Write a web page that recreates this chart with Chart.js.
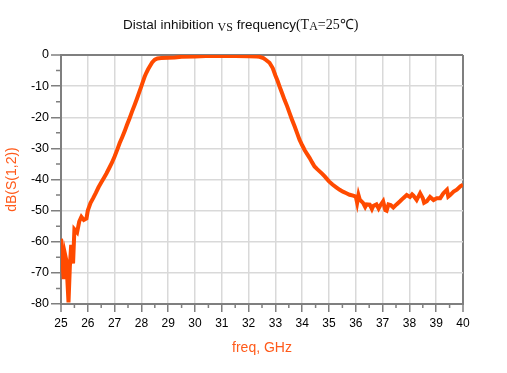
<!DOCTYPE html>
<html>
<head>
<meta charset="utf-8">
<script src="https://cdn.jsdelivr.net/npm/chart.js@4"></script>
<style>
  body { margin: 0; background: #fff; }
  #wrap { position: relative; width: 507px; height: 373px; }
  #title {
    position: absolute; left: 123px; top: 14px; white-space: nowrap;
    font-family: "Liberation Sans", Arial, sans-serif; font-size: 13.5px; color: #111;
  }
  #title .sf { font-family: "Liberation Serif", "Times New Roman", serif; font-size: 14px; }
  #title .vs { font-family: "Liberation Serif", serif; font-size: 12px; position: relative; top: 2px; }
  #title sub { font-size: 12px; position: relative; top: 1px; vertical-align: baseline; }
</style>
</head>
<body>
<div id="wrap">
  <canvas id="mycanvas"></canvas>
  <div id="title">Distal inhibition <span class="vs">VS</span> frequency<span class="sf">(T<sub>A</sub>=25℃)</span></div>
</div>
<script>
var freq = [25.00, 25.05, 25.10, 25.15, 25.20, 25.28, 25.33, 25.38, 25.45, 25.50,
            25.60, 25.68, 25.76, 25.85, 25.95, 26.00, 26.10, 26.20, 26.30, 26.40,
            26.50, 26.60, 26.70, 26.80, 26.90, 27.00, 27.10, 27.19, 27.28, 27.37,
            27.46, 27.56, 27.65, 27.75, 27.84, 27.93, 28.00, 28.06, 28.12, 28.18,
            28.25, 28.31, 28.40, 28.50, 28.60, 28.74, 29.00, 29.24, 29.50, 30.00,
            30.40, 31.00, 31.50, 32.00, 32.30, 32.41, 32.55, 32.65, 32.78, 32.90,
            33.00, 33.08, 33.15, 33.25, 33.34, 33.44, 33.53, 33.62, 33.72, 33.81,
            33.90, 34.00, 34.09, 34.18, 34.28, 34.37, 34.46, 34.55, 34.65, 34.75,
            34.84, 34.92, 35.00, 35.13, 35.27, 35.40, 35.52, 35.65, 35.77, 35.90,
            36.00, 36.05, 36.10, 36.15, 36.27, 36.35, 36.40, 36.52, 36.60, 36.65,
            36.77, 36.85, 36.90, 37.02, 37.10, 37.15, 37.22, 37.30, 37.40, 37.52,
            37.65, 37.77, 37.90, 38.02, 38.10, 38.15, 38.27, 38.40, 38.50, 38.55,
            38.65, 38.77, 38.90, 39.02, 39.15, 39.27, 39.40, 39.45, 39.52, 39.65,
            39.77, 39.90, 40.00];
var db = [-59, -66, -72, -64, -66, -79.5, -68, -61, -67, -56,
          -57, -53.5, -52, -53, -52.5, -50, -47.6, -46, -44.3, -42.5,
          -41, -39.5, -38, -36.3, -34.6, -32.6, -30.4, -28.3, -26.5, -24.6,
          -22.5, -20.3, -18.2, -16, -13.9, -11.7, -10, -8.5, -7, -5.8,
          -4.6, -3.7, -2.4, -1.5, -1.1, -1.0, -0.9, -0.8, -0.6, -0.5,
          -0.3, -0.3, -0.3, -0.4, -0.5, -0.6, -1.0, -1.6, -2.5, -4.2,
          -6.6, -8.3, -10, -12.3, -14.4, -16.5, -18.7, -20.8, -23, -25.1,
          -27.2, -29, -30.5, -31.8, -33.1, -34.5, -35.8, -36.6, -37.4, -38.2,
          -39, -39.8, -40.6, -41.6, -42.5, -43.3, -43.9, -44.4, -44.9, -45.2,
          -45.5, -47.5, -45, -46.5, -47.5, -48.8, -48, -48.1, -49.5, -48.5,
          -48, -49.3, -48.5, -47, -49.8, -50, -48, -48.2, -49, -48,
          -47, -46, -45, -45.6, -44.8, -45.2, -46.6, -44.4, -46, -47.5,
          -47, -45.6, -46.6, -46, -46, -44.4, -43.3, -45.5, -45, -43.9,
          -43.3, -42.2, -41.7];

var xTicks = { min: 25, max: 40, step: 0.5 };
var yTicks = { min: -80, max: 0, step: 5 };

var axisGray = '#7f7f7f';
var gridGray = '#d9d9d9';
var orange = '#ff4a00';

// short minor tick marks (library ticks with non-labelled values)
var minorTicks = {
  id: 'minorTicks',
  afterDraw: function(chart) {
    var ctx = chart.ctx, xs = chart.scales.x, ys = chart.scales.y;
    ctx.save();
    ctx.strokeStyle = axisGray;
    ctx.lineWidth = 1.5;
    ctx.beginPath();
    xs.ticks.forEach(function(t) {
      if (!Number.isInteger(t.value)) {
        var px = xs.getPixelForValue(t.value);
        ctx.moveTo(px, xs.top);
        ctx.lineTo(px, xs.top + 4);
      }
    });
    ys.ticks.forEach(function(t) {
      if (t.value % 10 !== 0) {
        var py = ys.getPixelForValue(t.value);
        ctx.moveTo(ys.right - 5, py);
        ctx.lineTo(ys.right, py);
      }
    });
    ctx.stroke();
    ctx.restore();
  }
};

const config = {
  type: 'line',
  data: {
    datasets: [{
      data: freq.map(function(f, i) { return { x: f, y: db[i] }; }),
      borderColor: orange,
      backgroundColor: orange,
      borderWidth: 4,
      pointRadius: 0,
      tension: 0
    }]
  },
  options: {
    responsive: true,
    maintainAspectRatio: false,
    animation: false,
    layout: { padding: { left: 0, top: 55, right: 44, bottom: 0 } },
    plugins: { legend: { display: false }, tooltip: { enabled: false } },
    scales: {
      x: {
        type: 'linear',
        min: xTicks.min, max: xTicks.max,
        afterFit: function(s) { s.height = 69; },
        border: { color: axisGray, width: 2 },
        grid: {
          color: function(c) {
            var v = c.tick.value;
            if (v === xTicks.max || v === xTicks.min) return axisGray;
            return Number.isInteger(v) ? gridGray : 'rgba(0,0,0,0)';
          },
          lineWidth: function(c) {
            var v = c.tick.value;
            return (v === xTicks.max || v === xTicks.min) ? 2 : 1.5;
          },
          tickColor: function(c) { return Number.isInteger(c.tick.value) ? axisGray : 'rgba(0,0,0,0)'; },
          tickWidth: 1.5,
          tickLength: 8
        },
        ticks: {
          stepSize: xTicks.step,
          autoSkip: false,
          maxRotation: 0,
          padding: 4,
          color: '#000',
          font: { family: 'Liberation Sans', size: 12 },
          callback: function(v) { return Number.isInteger(v) ? String(v) : ''; }
        },
        title: {
          display: true,
          text: 'freq, GHz',
          color: '#ff5a1a',
          font: { family: 'Liberation Sans', size: 14 },
          padding: { top: 16, bottom: 16 }
        }
      },
      y: {
        min: yTicks.min, max: yTicks.max,
        afterFit: function(s) { s.width = 61; },
        border: { color: axisGray, width: 2 },
        grid: {
          color: function(c) {
            var v = c.tick.value;
            if (v === yTicks.max) return axisGray;
            return v % 10 === 0 ? gridGray : 'rgba(0,0,0,0)';
          },
          lineWidth: function(c) { return c.tick.value === yTicks.max ? 2 : 1.5; },
          tickColor: function(c) { return c.tick.value % 10 === 0 ? axisGray : 'rgba(0,0,0,0)'; },
          tickWidth: 1.5,
          tickLength: 10
        },
        ticks: {
          stepSize: yTicks.step,
          autoSkip: false,
          padding: 2,
          color: '#000',
          font: { family: 'Liberation Sans', size: 12.5 },
          callback: function(v) { return v % 10 === 0 ? String(v) : ''; }
        },
        title: {
          display: true,
          text: 'dB(S(1,2))',
          color: '#ff5a1a',
          font: { family: 'Liberation Sans', size: 14 },
          padding: { top: 4, bottom: 0 }
        }
      }
    }
  },
  plugins: [minorTicks]
};

const myChart = new Chart(document.getElementById('mycanvas'), config);
</script>
</body>
</html>
